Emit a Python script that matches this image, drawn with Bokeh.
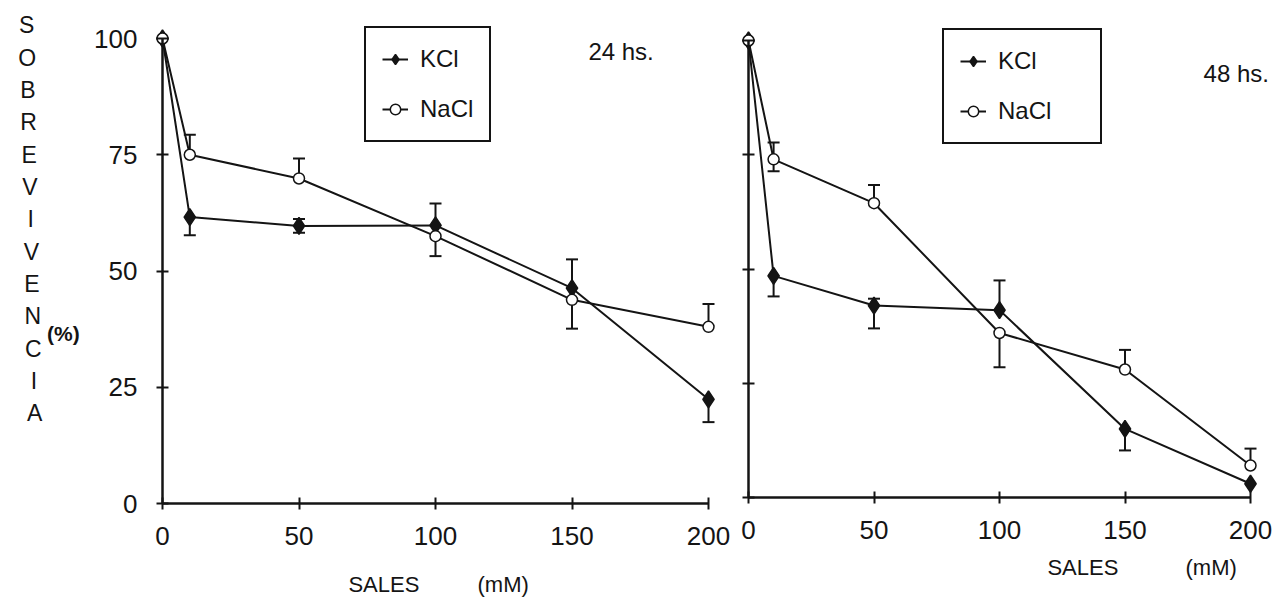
from bokeh.plotting import figure
from bokeh.layouts import row
from bokeh.models import (ColumnDataSource, Range1d, Legend, LegendItem, Label,
                          Whisker, TeeHead, FixedTicker)
from bokeh.embed import file_html
from bokeh.resources import INLINE

FONT = "Liberation Sans"
INK = "#141414"
HEIGHT = 597

# Salt concentration (mM)
conc = [0, 10, 50, 100, 150, 200]
x_ticks = [0, 50, 100, 150, 200]
y_ticks = [0, 25, 50, 75, 100]

# Survival (%) after 24 h, with one-sided error bars
kcl_24 = [100, 61.6, 59.7, 59.8, 46.3, 22.4]
kcl_24_up = [0, 0, 1.5, 4.7, 6.2, 0]
kcl_24_dn = [0, 3.9, 1.5, 0, 0, 4.9]
nacl_24 = [100, 75.0, 69.9, 57.5, 43.8, 38.0]
nacl_24_up = [0, 4.3, 4.3, 0, 0, 4.9]
nacl_24_dn = [0, 0, 0, 4.3, 6.2, 0]

# Survival (%) after 48 h
kcl_48 = [100, 48.5, 42.0, 41.0, 15.0, 3.0]
kcl_48_up = [0, 0, 1.5, 6.5, 0, 0]
kcl_48_dn = [0, 4.5, 5.0, 0, 4.7, 0]
nacl_48 = [100, 74.0, 64.4, 36.0, 28.0, 7.0]
nacl_48_up = [0, 3.7, 4.0, 0, 4.3, 3.7]
nacl_48_dn = [0, 2.6, 0, 7.5, 0, 0]

series_names = ["KCl", "NaCl"]
y_title_letters = list("SOBREVIVENCIA")


def error_bars(p, xs, ys, up, dn):
    ux = [x for x, u in zip(xs, up) if u > 0]
    uy = [y for y, u in zip(ys, up) if u > 0]
    uu = [y + u for y, u in zip(ys, up) if u > 0]
    dx = [x for x, d in zip(xs, dn) if d > 0]
    dy = [y for y, d in zip(ys, dn) if d > 0]
    dd = [y - d for y, d in zip(ys, dn) if d > 0]
    src_u = ColumnDataSource(dict(x=ux, lo=uy, hi=uu))
    src_d = ColumnDataSource(dict(x=dx, lo=dd, hi=dy))
    p.add_layout(Whisker(base="x", lower="lo", upper="hi", source=src_u,
                         line_color=INK, line_width=2, lower_head=None,
                         upper_head=TeeHead(size=12, line_color=INK, line_width=2)))
    p.add_layout(Whisker(base="x", lower="lo", upper="hi", source=src_d,
                         line_color=INK, line_width=2, upper_head=None,
                         lower_head=TeeHead(size=12, line_color=INK, line_width=2)))


def make_panel(width, origin_px, scale, kcl, kcl_up, kcl_dn, nacl, nacl_up,
               nacl_dn, show_y_labels, legend_loc, legend_label_width,
               hours_text, hours_xy, sales_xy, mm_xy):
    # origin_px: canvas pixel of the data origin (from left, from top)
    # scale: pixels per data unit along x and y
    ox, oy = origin_px
    sx, sy = scale
    p = figure(width=width, height=HEIGHT, output_backend="svg",
               toolbar_location=None,
               x_range=Range1d(-ox / sx, (width - ox) / sx),
               y_range=Range1d(-(HEIGHT - oy) / sy, oy / sy),
               min_border=0)
    p.outline_line_color = None
    p.grid.visible = False
    p.background_fill_color = "white"
    p.border_fill_color = "white"

    for ax in (p.xaxis, p.yaxis):
        ax.fixed_location = 0
        ax.axis_line_color = INK
        ax.axis_line_width = 2.5
        ax.major_tick_line_color = INK
        ax.major_tick_line_width = 2
        ax.major_tick_in = 6
        ax.major_tick_out = 6
        ax.minor_tick_line_color = None
        ax.major_label_text_font = FONT
        ax.major_label_text_font_size = "26px"
        ax.major_label_text_color = INK
    p.xaxis.ticker = FixedTicker(ticks=x_ticks)
    p.yaxis.ticker = FixedTicker(ticks=y_ticks)
    p.xaxis.bounds = (0, 200)
    p.yaxis.bounds = (0, 100)
    p.xaxis.major_label_standoff = 17
    p.yaxis.major_label_standoff = 19
    if not show_y_labels:
        p.yaxis.major_label_overrides = {t: "" for t in y_ticks}

    error_bars(p, conc, kcl, kcl_up, kcl_dn)
    error_bars(p, conc, nacl, nacl_up, nacl_dn)

    l_k = p.line(conc, kcl, line_color=INK, line_width=2)
    s_k = p.scatter(conc, kcl, marker="diamond", size=17, fill_color=INK,
                    line_color=INK, line_width=1.5)
    l_n = p.line(conc, nacl, line_color=INK, line_width=2)
    s_n = p.scatter(conc, nacl, marker="circle", size=11, fill_color="white",
                    line_color=INK, line_width=1.5)

    legend = Legend(items=[LegendItem(label=series_names[0], renderers=[l_k, s_k]),
                           LegendItem(label=series_names[1], renderers=[l_n, s_n])],
                    location=legend_loc)
    legend.border_line_color = INK
    legend.border_line_alpha = 1.0
    legend.border_line_width = 2
    legend.background_fill_color = "white"
    legend.background_fill_alpha = 1
    legend.padding = 16
    legend.margin = 0
    legend.spacing = 20
    legend.glyph_width = 26
    legend.glyph_height = 30
    legend.label_height = 30
    legend.label_width = legend_label_width
    legend.label_standoff = 12
    legend.label_text_font = FONT
    legend.label_text_font_size = "24px"
    legend.label_text_color = INK
    p.add_layout(legend)

    p.add_layout(Label(x=hours_xy[0], y=hours_xy[1], text=hours_text,
                       text_font=FONT, text_font_size="24px", text_color=INK,
                       text_baseline="middle", text_align="left"))
    p.add_layout(Label(x=sales_xy[0], y=sales_xy[1], text="SALES",
                       text_font=FONT, text_font_size="22px", text_color=INK,
                       text_baseline="middle", text_align="left"))
    p.add_layout(Label(x=mm_xy[0], y=mm_xy[1], text="(mM)",
                       text_font=FONT, text_font_size="22px", text_color=INK,
                       text_baseline="middle", text_align="left"))
    return p


p1 = make_panel(735, (162, 503), (2.73, 4.65), kcl_24, kcl_24_up, kcl_24_dn,
                nacl_24, nacl_24_up, nacl_24_dn, True, (364, 455), 45,
                "24 hs.", (156, 97.2), (68.1, -17.5), (115.4, -17.5))
p2 = make_panel(543, (13, 497), (2.51, 4.57), kcl_48, kcl_48_up, kcl_48_dn,
                nacl_48, nacl_48_up, nacl_48_dn, False, (207, 453), 86,
                "48 hs.", (181.3, 92.8), (119.1, -15.3), (174.1, -15.3))

# vertical, letter-by-letter y-axis title on the left panel
for i, ch in enumerate(y_title_letters):
    p1.add_layout(Label(x=-49.8 + 0.25 * i, y=102.8 - 6.95 * i, text=ch,
                        text_font=FONT, text_font_size="23px", text_color=INK,
                        text_align="center", text_baseline="middle"))
p1.add_layout(Label(x=-36.3, y=36.6, text="(%)", text_font=FONT,
                    text_font_size="21px", text_font_style="bold",
                    text_color=INK, text_align="center", text_baseline="middle"))

layout = row(p1, p2)
open("out.html", "w").write(file_html(layout, INLINE))
